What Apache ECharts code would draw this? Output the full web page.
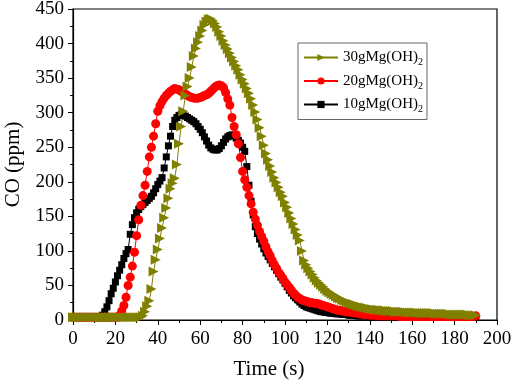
<!DOCTYPE html>
<html>
<head>
<meta charset="utf-8">
<script src="https://cdn.jsdelivr.net/npm/echarts@6/dist/echarts.min.js"></script>
<style>
  html, body { margin: 0; padding: 0; background: #fff; }
  #chart { width: 512px; height: 384px; }
</style>
</head>
<body>
<div id="chart"></div>
<script>
// sample times (s)
const times = [
  0, 1, 2, 3, 4, 5, 6, 7, 8, 9,
  10, 11, 12, 13, 14, 15, 16, 17, 18, 19,
  20, 21, 22, 23, 24, 25, 26, 27, 28, 29,
  30, 31, 32, 33, 34, 35, 36, 37, 38, 39,
  40, 41, 42, 43, 44, 45, 46, 47, 48, 49,
  50, 51, 52, 53, 54, 55, 56, 57, 58, 59,
  60, 61, 62, 63, 64, 65, 66, 67, 68, 69,
  70, 71, 72, 73, 74, 75, 76, 77, 78, 79,
  80, 81, 82, 83, 84, 85, 86, 87, 88, 89,
  90, 91, 92, 93, 94, 95, 96, 97, 98, 99,
  100, 101, 102, 103, 104, 105, 106, 107, 108, 109,
  110, 111, 112, 113, 114, 115, 116, 117, 118, 119,
  120, 121, 122, 123, 124, 125, 126, 127, 128, 129,
  130, 131, 132, 133, 134, 135, 136, 137, 138, 139,
  140, 141, 142, 143, 144, 145, 146, 147, 148, 149,
  150, 151, 152, 153, 154, 155, 156, 157, 158, 159,
  160, 161, 162, 163, 164, 165, 166, 167, 168, 169,
  170, 171, 172, 173, 174, 175, 176, 177, 178, 179,
  180, 181, 182, 183, 184, 185, 186, 187, 188, 189,
  190
];

// CO (ppm), 10 g Mg(OH)2
const co10g = [
  4, 4, 4, 4, 4, 4, 4, 4, 4, 4,
  4, 4, 4, 4, 7, 12, 19, 28, 38, 46,
  55, 64, 72, 80, 89, 96, 102, 124, 138, 148,
  155, 160, 164, 167, 170, 173, 176, 179, 184, 190,
  196, 201, 206, 220, 236, 252, 266, 280, 289, 293,
  296, 297, 296, 295, 293, 291, 289, 287, 284, 280,
  276, 271, 265, 259, 253, 249, 247, 246, 246, 248,
  252, 257, 262, 265, 267, 268, 266, 263, 260, 256,
  250, 244, 222, 195, 172, 152, 135, 125, 117, 110,
  103, 97, 92, 87, 82, 77, 72, 67, 62, 58,
  53, 48, 43, 39, 35, 32, 29, 26, 23, 21,
  19, 18, 17, 16, 15, 14, 13, 12, 12, 11,
  11, 10, 10, 10, 9, 9, 9, 8, 8, 8,
  7, 7, 7, 7, 6, 6, 6, 6, 6, 6,
  6, 5, 5, 5, 5, 5, 5, 5, 5, 5,
  5, 5, 5, 5, 5, 5, 5, 5, 5, 5,
  5, 5, 5, 4, 4, 4, 4, 4, 4, 4,
  4, 4, 4, 4, 4, 4, 4, 4, 4, 4,
  4, 4, 4, 4, 4, 4, 4, 4, 4, 4,
  4
];

// CO (ppm), 20 g Mg(OH)2
const co20g = [
  4, 4, 4, 4, 4, 4, 4, 4, 4, 4,
  4, 4, 4, 4, 4, 4, 4, 4, 4, 4,
  4, 4, 7, 13, 21, 33, 50, 62, 78, 98,
  122, 145, 166, 180, 195, 215, 236, 250, 266, 284,
  302, 310, 316, 321, 325, 328, 331, 333, 335, 334,
  333, 331, 329, 327, 325, 323, 322, 321, 321, 321,
  322, 323, 325, 326, 328, 331, 334, 337, 339, 340,
  339, 336, 329, 320, 311, 293, 280, 268, 255, 235,
  215, 203, 192, 180, 168, 156, 146, 137, 128, 121,
  114, 106, 99, 93, 86, 80, 75, 69, 65, 60,
  55, 51, 47, 43, 39, 36, 33, 31, 29, 28,
  27, 26, 25, 25, 24, 24, 23, 22, 21, 20,
  19, 18, 17, 16, 15, 14, 14, 13, 13, 12,
  12, 11, 11, 10, 10, 9, 9, 8, 8, 8,
  7, 7, 7, 7, 6, 6, 6, 6, 6, 6,
  6, 6, 6, 6, 5, 5, 5, 5, 5, 5,
  5, 5, 5, 5, 5, 5, 5, 5, 5, 5,
  5, 5, 5, 5, 5, 5, 5, 5, 5, 5,
  5, 5, 5, 5, 5, 5, 5, 5, 5, 5,
  6
];

// CO (ppm), 30 g Mg(OH)2
const co30g = [
  4, 4, 4, 4, 4, 4, 4, 4, 4, 4,
  4, 4, 4, 4, 4, 4, 4, 4, 4, 4,
  4, 4, 4, 4, 4, 4, 4, 4, 4, 4,
  4, 4, 4, 6, 12, 20, 28, 45, 70, 87,
  102, 118, 133, 148, 162, 176, 190, 198, 205, 225,
  255, 280, 302, 325, 338, 350, 366, 382, 393, 402,
  411, 419, 427, 432, 435, 436, 433, 429, 424, 417,
  411, 404, 398, 392, 386, 380, 374, 368, 362, 355,
  348, 342, 335, 328, 320, 311, 301, 290, 278, 266,
  253, 241, 232, 223, 214, 206, 199, 192, 185, 179,
  170, 163, 155, 147, 139, 131, 123, 115, 100, 86,
  80, 75, 70, 66, 61, 57, 54, 51, 48, 45,
  42, 40, 38, 36, 34, 32, 31, 29, 28, 26,
  25, 24, 23, 22, 21, 20, 19, 18, 18, 17,
  16, 16, 15, 15, 15, 14, 14, 14, 13, 13,
  13, 13, 12, 12, 12, 12, 12, 11, 11, 11,
  11, 11, 11, 10, 10, 10, 10, 10, 10, 10,
  10, 9, 9, 9, 9, 9, 9, 9, 8, 8,
  8, 8, 8, 8, 8, 8, 8, 7, 7, 7,
  7
];

const seriesNames = ['10gMg(OH)2', '20gMg(OH)2', '30gMg(OH)2'];
const legendOrder = ['30gMg(OH)2', '20gMg(OH)2', '10gMg(OH)2'];
const xTicks = { min: 0, max: 200, interval: 20 };
const yTicks = { min: 0, max: 450, interval: 50 };

const serif = '"Liberation Serif", "DejaVu Serif", serif';

function pairs(vals) {
  return times.map((t, i) => [t, vals[i]]);
}

const chart = echarts.init(document.getElementById('chart'));
const option = {
  animation: false,
  backgroundColor: '#fff',
  grid: {
    left: 73, right: 15, top: 9, bottom: 64,
    outerBoundsMode: 'none',
    containLabel: false,
    show: true, borderColor: '#000', borderWidth: 1.2, backgroundColor: 'transparent'
  },
  legend: {
    data: legendOrder,
    orient: 'vertical',
    left: 298,
    top: 43,
    padding: [7, 4, 5, 5],
    itemGap: 6,
    itemWidth: 34,
    itemHeight: 9,
    borderColor: '#666',
    borderWidth: 1,
    borderRadius: 0,
    textStyle: {
      fontFamily: serif, fontSize: 15, color: '#000',
      rich: { sub: { fontFamily: serif, fontSize: 10, color: '#000', padding: [10, 0, 0, 0] } }
    },
    formatter: function (name) {
      return name.slice(0, -1) + '{sub|' + name.slice(-1) + '}';
    }
  },
  xAxis: {
    type: 'value',
    min: xTicks.min, max: xTicks.max, interval: xTicks.interval,
    name: 'Time (s)',
    nameLocation: 'middle',
    nameGap: 39,
    nameTextStyle: { fontFamily: serif, fontSize: 21, color: '#000', padding: [0, 32, 0, 0] },
    axisLine: { lineStyle: { color: '#000', width: 1.2 } },
    axisTick: { inside: false, length: 5, lineStyle: { color: '#000' } },
    minorTick: { show: true, splitNumber: 2, length: 3, lineStyle: { color: '#000' } },
    axisLabel: { fontFamily: serif, fontSize: 19, color: '#000', margin: 10 },
    splitLine: { show: false }
  },
  yAxis: {
    type: 'value',
    min: yTicks.min, max: yTicks.max, interval: yTicks.interval,
    name: 'CO (ppm)',
    nameLocation: 'middle',
    nameGap: 49,
    nameTextStyle: { fontFamily: serif, fontSize: 21, color: '#000' },
    axisLine: { show: true, lineStyle: { color: '#000', width: 1.2 } },
    axisTick: { show: true, inside: false, length: 5, lineStyle: { color: '#000' } },
    minorTick: { show: true, splitNumber: 2, length: 3, lineStyle: { color: '#000' } },
    axisLabel: { fontFamily: serif, fontSize: 19, color: '#000', margin: 9 },
    splitLine: { show: false }
  },
  series: [
    {
      name: seriesNames[0], type: 'line', data: pairs(co10g),
      symbol: 'rect', symbolSize: 7, showAllSymbol: true,
      itemStyle: { color: '#000' }, lineStyle: { color: '#000', width: 1 }
    },
    {
      name: seriesNames[1], type: 'line', data: pairs(co20g),
      symbol: 'circle', symbolSize: 9, showAllSymbol: true,
      itemStyle: { color: '#ff0000' }, lineStyle: { color: '#ff0000', width: 1 }
    },
    {
      name: seriesNames[2], type: 'line', data: pairs(co30g),
      symbol: 'triangle', symbolSize: 10, symbolRotate: -90, showAllSymbol: true,
      itemStyle: { color: '#808000' }, lineStyle: { color: '#808000', width: 1 }
    }
  ]
};
chart.setOption(option);
</script>
</body>
</html>
